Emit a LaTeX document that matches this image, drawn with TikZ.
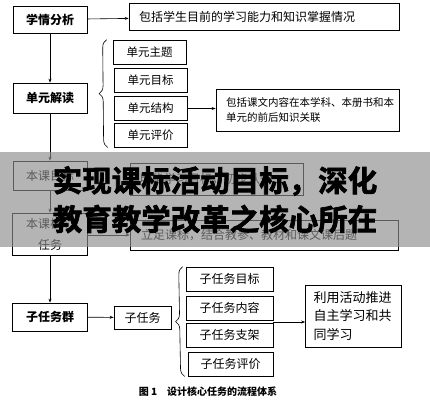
\documentclass[tikz,border=0pt]{standalone}
\usepackage{fontspec}
\setmainfont{Noto Sans CJK SC}
\newfontfamily\heavyfont[FakeBold=2.5]{Noto Sans CJK SC Bold}
\usetikzlibrary{arrows.meta,decorations.pathreplacing,calc}

\begin{document}
\begin{tikzpicture}[x=1pt,y=-1pt,
    box/.style={draw,line width=0.7pt,inner sep=0pt,font=\fontsize{12}{14}\selectfont},
    mainbox/.style={box,minimum width=74pt,font=\fontsize{12}{14}\selectfont\bfseries},
    subbox/.style={box,minimum width=73pt,minimum height=24pt,font=\fontsize{11.5}{13}\selectfont},
    taskbox/.style={box,minimum width=87pt,minimum height=24pt},
    notebox/.style={box,align=left,inner xsep=10pt},
    arr/.style={-{Stealth[length=4pt,width=3pt]},line width=0.6pt},
    brace/.style={decorate,decoration={brace,amplitude=8pt},line width=0.6pt},
    headline/.style={font=\heavyfont\fontsize{29.5}{30}\selectfont},
  ]
  \useasboundingbox (0,0) rectangle (430,400);
  \fill[white] (0,0) rectangle (430,400);
  % left column
  \node[mainbox,minimum height=27pt] (xq) at (50,19.5) {学情分析};
  \node[mainbox,minimum height=30pt] (dy) at (50,98) {单元解读};
  \node[box,minimum width=74pt,minimum height=29pt] (mb) at (50,175.5) {本课目标};
  \node[box,minimum width=75pt,minimum height=42pt,align=center,
        font=\fontsize{12}{21}\selectfont] (hx) at (50,234) {本课核心\\任务};
  \node[mainbox,minimum width=75pt,minimum height=28pt] (zq) at (50,317) {子任务群};
  \draw[arr] (xq) -- (dy);
  \draw[arr] (dy) -- (mb);
  \draw[arr] (mb) -- (hx);
  \draw[arr] (hx) -- (zq);
  % notes
  \node[notebox,text width=250pt,minimum height=27pt] (xqt) at (264,16.5)
    {包括学生目前的学习能力和知识掌握情况};
  \draw[arr] (xq) -- (xqt);
  % unit
  \node[subbox] (u1) at (149.5,52) {单元主题};
  \node[subbox] (u2) at (150.5,80.5) {单元目标};
  \node[subbox] (u3) at (150.5,108.5) {单元结构};
  \node[subbox] (u4) at (150.5,135) {单元评价};
  \draw[brace] ([xshift=-6pt]u4.south west) -- ([xshift=-6pt]u1.north west);
  \node[notebox,text width=163pt,minimum height=42pt,
        font=\fontsize{10.5}{15}\selectfont] (ujg) at (307.5,110)
    {包括课文内容在本学科、本册书和本\\单元的前后知识关联};
  \draw[arr] (u3.east) -- (u3.east -| ujg.west);
  % lesson
  \node[notebox,text width=153pt,minimum height=32pt] (mbt) at (216.5,179)
    {明确学习目标，初步认知};
  \node[notebox,text width=246pt,minimum height=30pt,inner xsep=11pt] (hxt) at (264,235)
    {立足课标，结合教参、教材和课文课后题};
  \draw[arr] (hx.east |- hxt.west) -- (hxt.west);
  % sub tasks
  \node[box,minimum width=57pt,minimum height=23pt] (zr) at (142.5,317.5) {子任务};
  \draw[arr] (zq) -- (zr);
  \node[taskbox] (s1) at (229.5,279) {子任务目标};
  \node[taskbox] (s2) at (229.5,308) {子任务内容};
  \node[taskbox] (s3) at (229.5,335) {子任务支架};
  \node[taskbox,minimum width=85pt] (s4) at (230.5,364) {子任务评价};
  \draw[brace] ([xshift=-3pt]s4.south west) -- ([xshift=-3pt]s1.north west);
  \node[notebox,text width=80pt,inner xsep=8pt,minimum height=62pt,
        font=\fontsize{13}{18.5}\selectfont] (st) at (353.5,316)
    {利用活动推进\\自主学习和共\\同学习};
  \coordinate (sj) at (273,322);
  \draw[arr] (sj) -- (sj -| st.west);
  % banner
  \fill[black!45,opacity=0.65] (0,152) rectangle (430,247);
  \node[headline] (t1) at (215,181) {实现课标活动目标，深化};
  \node[headline] (t2) at (215,219) {教育教学改革之核心所在};
  % caption
  \node[font=\fontsize{10}{12}\selectfont\bfseries] (cap) at (208,392) {图 1\quad 设计核心任务的流程体系};
\end{tikzpicture}
\end{document}
